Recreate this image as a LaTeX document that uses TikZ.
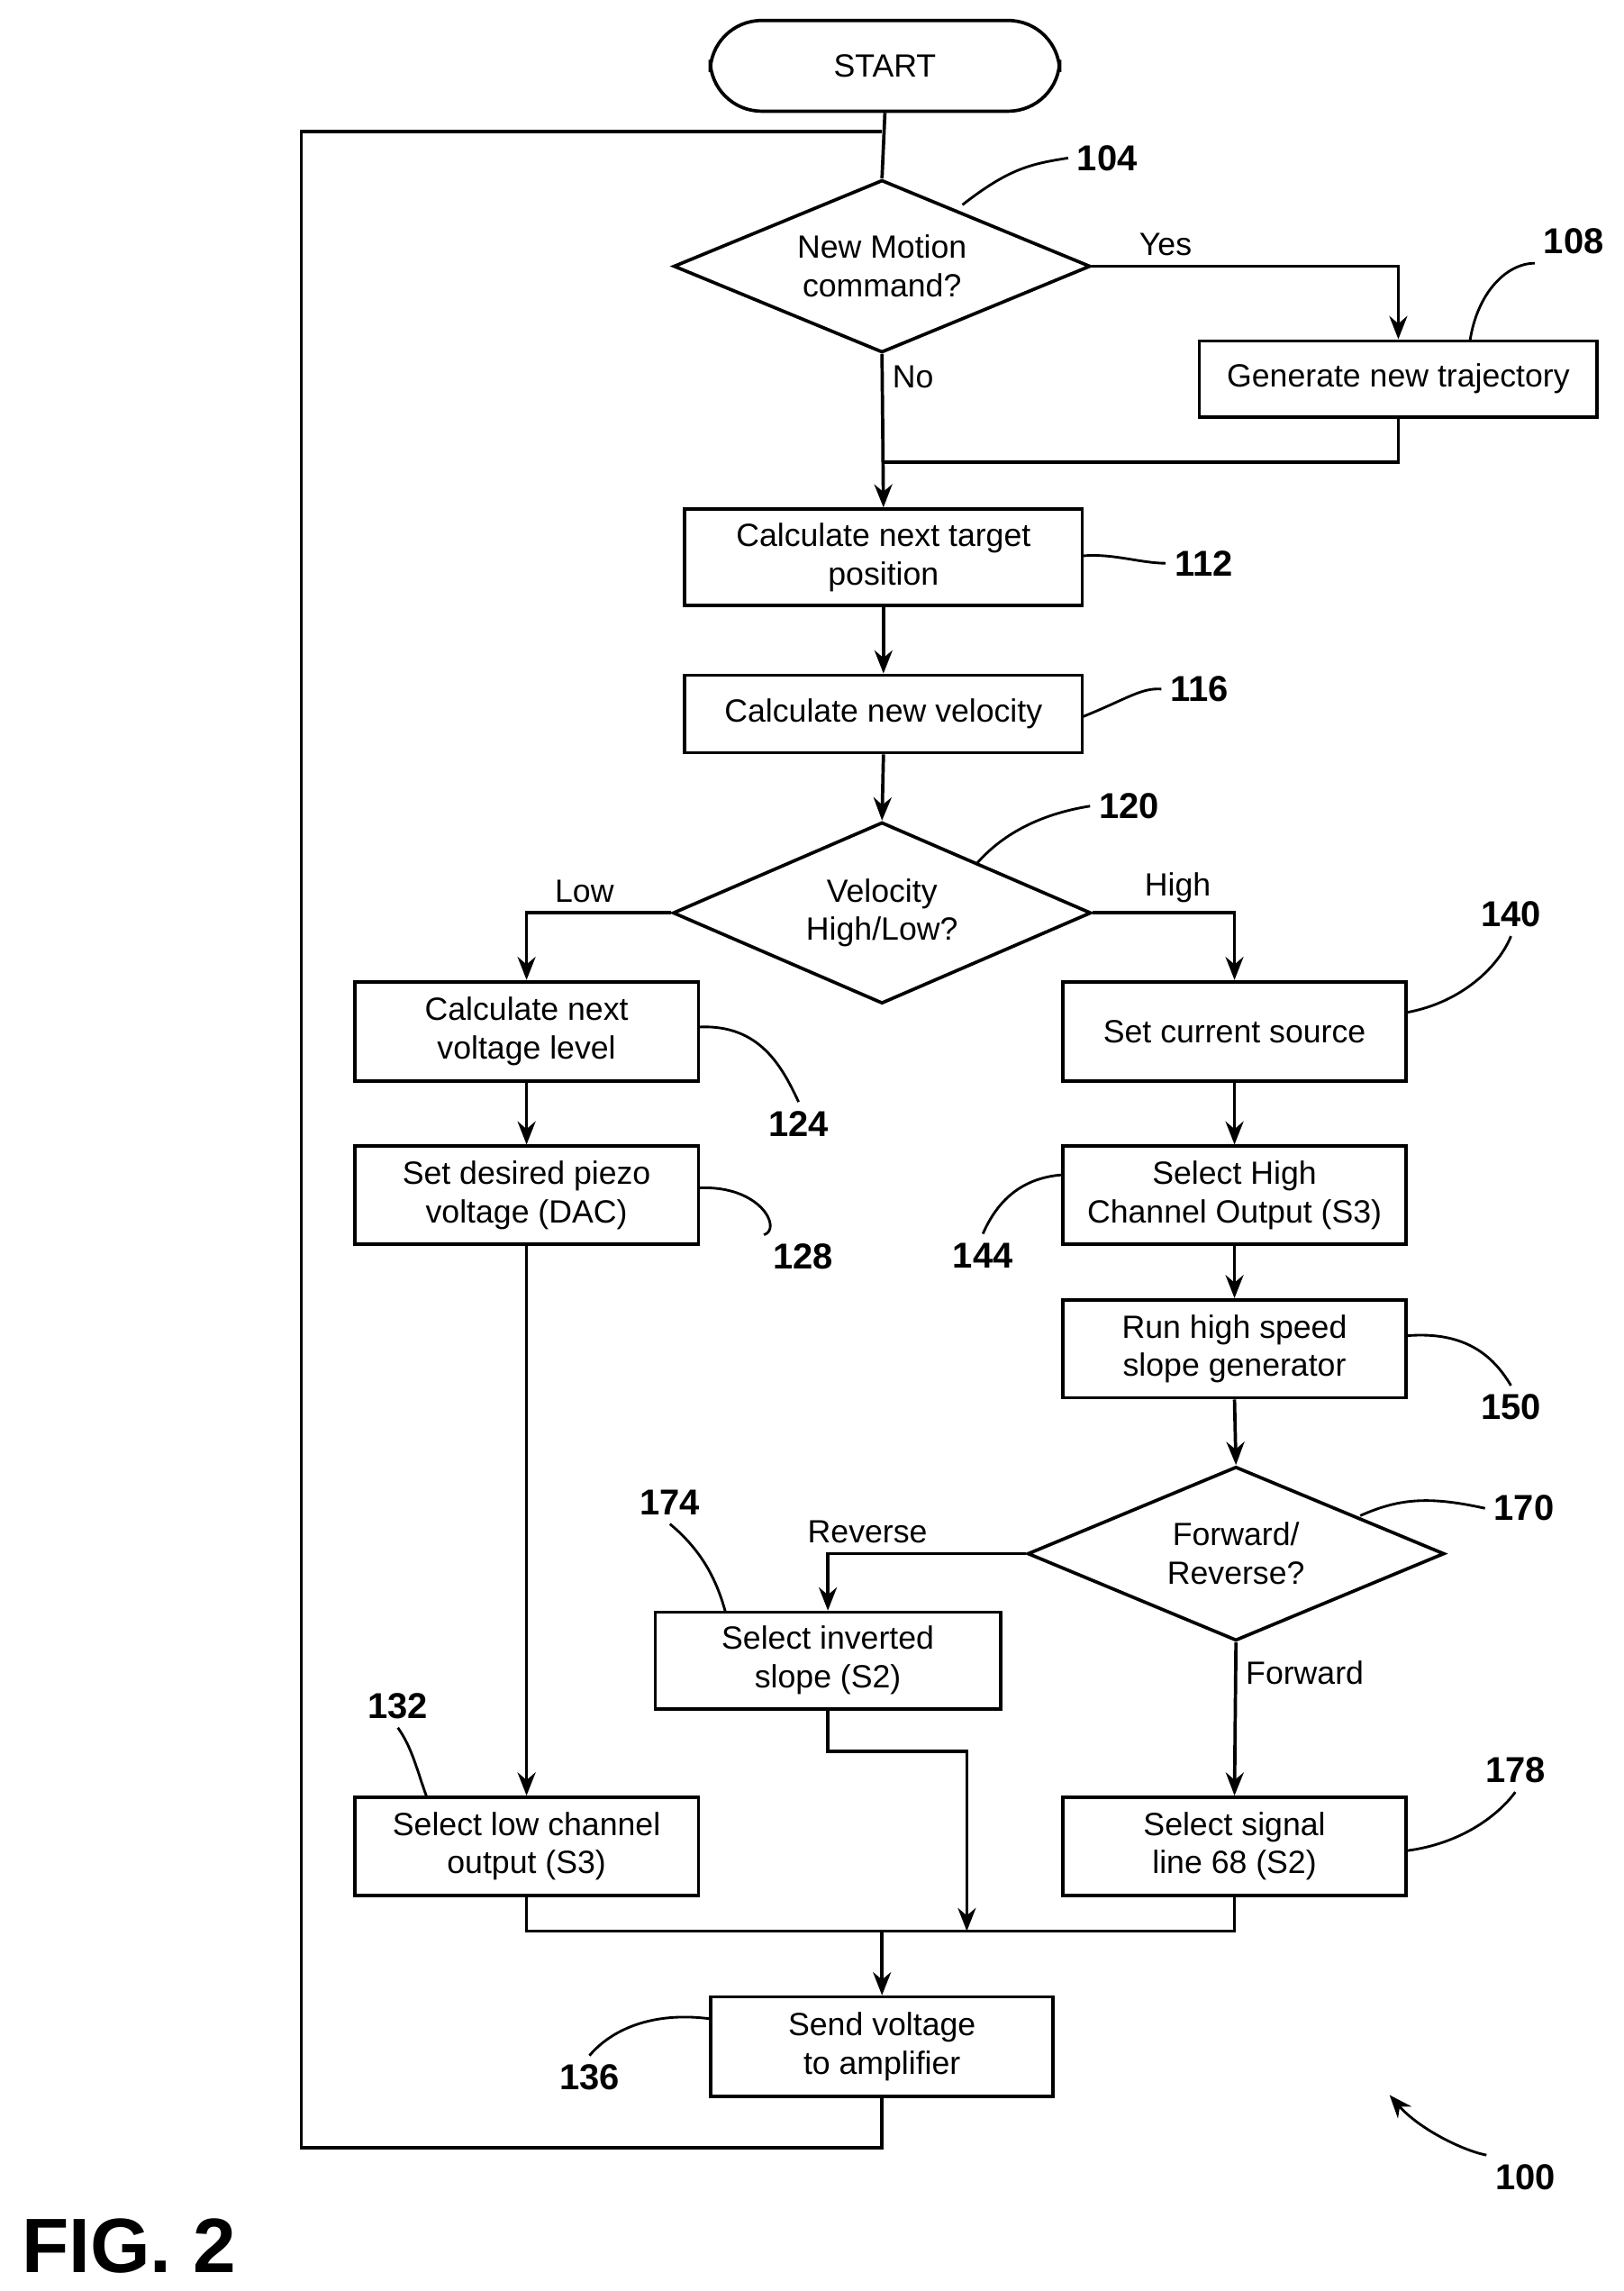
\documentclass[tikz,border=0pt]{standalone}
\usepackage{fontspec}
\setmainfont{Liberation Sans}
\usetikzlibrary{shapes.geometric,arrows.meta}
\begin{document}
\begin{tikzpicture}[x=0.02cm,y=-0.02cm,
  every node/.style={font=\fontsize{12.5}{15}\selectfont},
  box/.style={draw,line width=1.3pt,align=center,inner sep=2pt},
  dia/.style={draw,diamond,line width=1.3pt,align=center,inner sep=0pt,aspect=2.4},
  ln/.style={line width=1.3pt},
  ar/.style={line width=1.3pt,-{Stealth[length=9pt,width=7pt]}},
  lab/.style={font=\fontsize{14}{16}\selectfont\bfseries},
  ld/.style={line width=1pt}]
\useasboundingbox (0,0) rectangle (1110,1566);
\node[box,rounded corners=20pt,minimum width=4.78cm,minimum height=1.24cm] (start) at (605,45) {START};
\node[dia,minimum width=5.7cm,minimum height=2.36cm] (d104) at (603,182) {New Motion\\command?};
\node[box,minimum width=5.44cm,minimum height=1.04cm] (b108) at (956,259) {Generate new trajectory};
\node[box,minimum width=5.44cm,minimum height=1.32cm] (b112) at (604,381) {Calculate next target\\position};
\node[box,minimum width=5.44cm,minimum height=1.06cm] (b116) at (604,488) {Calculate new velocity};
\node[dia,minimum width=5.72cm,minimum height=2.48cm] (d120) at (603,624) {Velocity\\High/Low?};
\node[box,minimum width=4.7cm,minimum height=1.36cm] (b124) at (360,705) {Calculate next\\voltage level};
\node[box,minimum width=4.7cm,minimum height=1.34cm] (b128) at (360,817) {Set desired piezo\\voltage (DAC)};
\node[box,minimum width=4.7cm,minimum height=1.34cm] (b132) at (360,1262) {Select low channel\\output (S3)};
\node[box,minimum width=4.7cm,minimum height=1.36cm] (b140) at (844,705) {Set current source};
\node[box,minimum width=4.7cm,minimum height=1.34cm] (b144) at (844,817) {Select High\\Channel Output (S3)};
\node[box,minimum width=4.7cm,minimum height=1.34cm] (b150) at (844,922) {Run high speed\\slope generator};
\node[dia,minimum width=5.7cm,minimum height=2.38cm] (d170) at (845,1062) {Forward/\\Reverse?};
\node[box,minimum width=4.72cm,minimum height=1.32cm] (b174) at (566,1135) {Select inverted\\slope (S2)};
\node[box,minimum width=4.7cm,minimum height=1.34cm] (b178) at (844,1262) {Select signal\\line 68 (S2)};
\node[box,minimum width=4.68cm,minimum height=1.36cm] (b136) at (603,1399) {Send voltage\\to amplifier};
\coordinate (m1) at (603,316);
\coordinate (m2) at (603,1320);
\coordinate (m3) at (661,1320);
\coordinate (lp) at (206,1468);
\coordinate (lt) at (603,90);
% connectors
\draw[ln] (start.south) -- (d104.north);
\draw[ar] (d104.east) -| (b108.north) node[pos=0.12,above] {Yes};
\draw[ar] (d104.south) -- (b112.north) node[pos=0.15,right] {No};
\draw[ln] (b108.south) |- (m1);
\draw[ar] (b112.south) -- (b116.north);
\draw[ar] (b116.south) -- (d120.north);
\draw[ar] (d120.west) -| (b124.north) node[pos=0.3,above] {Low};
\draw[ar] (d120.east) -| (b140.north) node[pos=0.3,above] {High};
\draw[ar] (b124.south) -- (b128.north);
\draw[ar] (b128.south) -- (b132.north);
\draw[ar] (b140.south) -- (b144.north);
\draw[ar] (b144.south) -- (b150.north);
\draw[ar] (b150.south) -- (d170.north);
\draw[ar] (d170.west) -| (b174.north) node[pos=0.4,above] {Reverse};
\draw[ar] (d170.south) -- (b178.north) node[pos=0.2,right] {Forward};
\draw[ar] (b174.south) -- ++(0,28) -| (m3);
\draw[ln] (b132.south) |- (m2) -| (b178.south);
\draw[ar] (m2) -- (b136.north);
\draw[ln] (b136.south) |- (lp) |- (lt);
% labels
\node[lab] (l104) at (757,108) {104};
\draw[ld] (658,140) .. controls (690,115) and (705,112) .. (l104.west);
\node[lab] (l108) at (1076,165) {108};
\draw[ld] (1005,233) .. controls (1010,200) and (1030,180) .. (l108.south west);
\node[lab] (l112) at (823,385) {112};
\draw[ld] (740,380) .. controls (760,378) and (780,385) .. (l112.west);
\node[lab] (l116) at (820,471) {116};
\draw[ld] (740,490) .. controls (770,478) and (780,470) .. (l116.west);
\node[lab] (l120) at (772,551) {120};
\draw[ld] (668,590) .. controls (690,565) and (720,555) .. (l120.west);
\node[lab] (l124) at (546,768) {124};
\draw[ld] (478,702) .. controls (520,700) and (535,730) .. (l124.north);
\node[lab] (l128) at (549,859) {128};
\draw[ld] (478,812) .. controls (520,810) and (535,840) .. (l128.north west);
\node[lab] (l132) at (272,1166) {132};
\draw[ld] (292,1229) .. controls (285,1210) and (282,1195) .. (l132.south);
\node[lab] (l136) at (403,1420) {136};
\draw[ld] (486,1380) .. controls (450,1375) and (420,1385) .. (l136.north);
\node[lab] (l140) at (1033,625) {140};
\draw[ld] (962,692) .. controls (1000,685) and (1025,660) .. (l140.south);
\node[lab] (l144) at (672,858) {144};
\draw[ld] (727,803) .. controls (695,805) and (680,825) .. (l144.north);
\node[lab] (l150) at (1033,962) {150};
\draw[ld] (962,913) .. controls (1000,910) and (1020,925) .. (l150.north);
\node[lab] (l170) at (1042,1031) {170};
\draw[ld] (930,1036) .. controls (955,1025) and (975,1022) .. (l170.west);
\node[lab] (l174) at (458,1027) {174};
\draw[ld] (496,1102) .. controls (490,1080) and (480,1060) .. (l174.south);
\node[lab] (l178) at (1036,1210) {178};
\draw[ld] (962,1265) .. controls (1000,1260) and (1025,1240) .. (l178.south);
\node[lab] (l100) at (1043,1488) {100};
\draw[ld,-{Stealth[length=9pt,width=7pt]}] (l100.north west) .. controls (1000,1470) and (970,1455) .. (950,1432);
\node[font=\fontsize{30}{34}\selectfont\bfseries] (fig) at (88,1535) {FIG. 2};
\end{tikzpicture}
\end{document}
